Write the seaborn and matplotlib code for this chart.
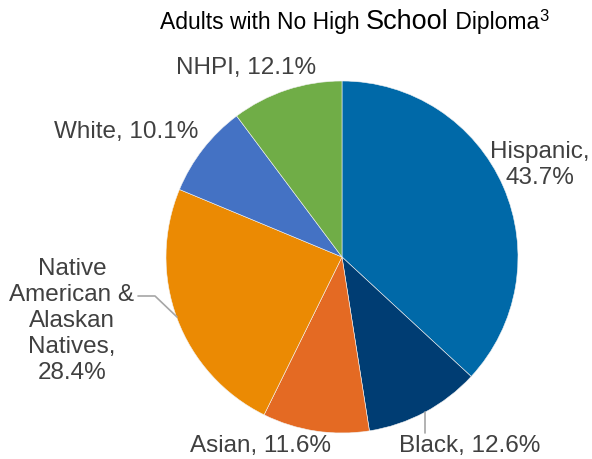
import matplotlib
matplotlib.use("Agg")
import matplotlib.pyplot as plt
import seaborn as sns

categories = ["Hispanic", "Black", "Asian", "Native American & Alaskan Natives", "White", "NHPI"]
values = [43.7, 12.6, 11.6, 28.4, 10.1, 12.1]
label_texts = ["Hispanic,\n43.7%", "Black, 12.6%", "Asian, 11.6%",
               "Native\nAmerican &\nAlaskan\nNatives,\n28.4%", "White, 10.1%", "NHPI, 12.1%"]
colors = ["#0069A8", "#003D73", "#E46A23", "#EB8A03", "#4472C4", "#70AD47"]

sns.set_theme(style="white")
plt.rcParams['font.family'] = ['Liberation Sans', 'DejaVu Sans']

W, H = 592, 460
fig = plt.figure(figsize=(W / 100, H / 100), dpi=100)
ax = fig.add_axes([0, 0, 1, 1])
cx, cy, R = 342, 258, 176

ax.pie(values, colors=colors, startangle=90, counterclock=False, radius=1,
       wedgeprops=dict(edgecolor="#F2F2F2", linewidth=0.4))
ax.set_aspect("auto")
ax.set_xlim((0 - cx) / R, (W - cx) / R)
ax.set_ylim((cy - H) / R, (cy - 0) / R)
ax.axis("off")

def d(px, py):
    return ((px - cx) / R, (cy - py) / R)

label_pos = [(540, 165), (470, 446), (260, 446), (72, 321), (126, 132), (246, 68)]
for t, (px, py) in zip(label_texts, label_pos):
    ax.text(*d(px, py), t, ha="center", va="center", fontsize=17.5,
            color="#404040", linespacing=1.24)

# leader lines
lc = "#A6A6A6"
xs, ys = zip(d(138, 297), d(155, 297), d(177, 318))
ax.plot(xs, ys, color=lc, lw=1.2)
xs, ys = zip(d(425, 413), d(425, 434))
ax.plot(xs, ys, color=lc, lw=1.2)

# title with a larger "School" and superscript 3
fig.canvas.draw()
r = fig.canvas.get_renderer()
parts = [("Adults with No High ", 16.5, 0), ("School", 19.5, 0), (" Diploma", 16.5, 0), ("3", 12, 8)]
x = 160
ybase = H - 29
for txt, fs, rise in parts:
    t = fig.text(x / W, (ybase + rise) / H, txt, fontsize=fs, color="black",
                 ha="left", va="baseline", transform=fig.transFigure)
    bb = t.get_window_extent(renderer=r)
    x = bb.x1

fig.savefig("out.png", dpi=100)
